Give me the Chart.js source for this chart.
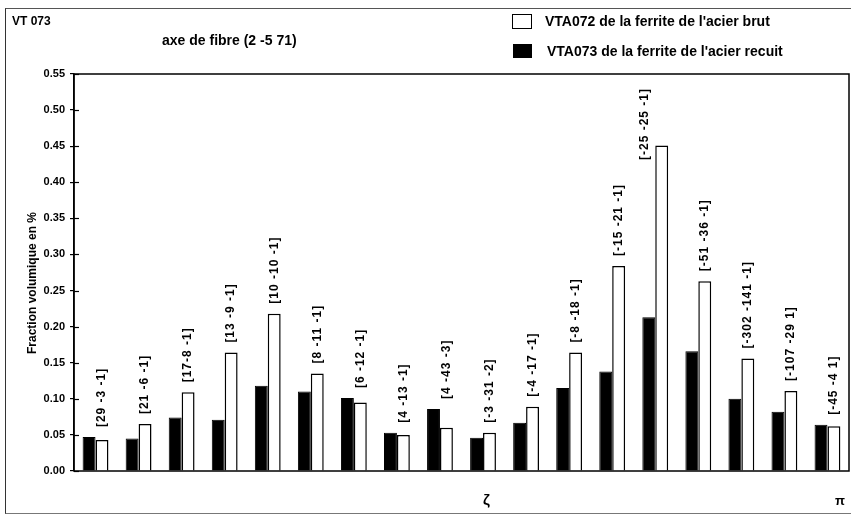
<!DOCTYPE html>
<html lang="fr">
<head>
  <meta charset="UTF-8" />
  <title>VT 073 - axe de fibre (2 -5 71)</title>
  <script src="https://cdn.jsdelivr.net/npm/chart.js"></script>
  <style>
    body { margin: 0; background: #fff; font-family: "Liberation Sans", Arial, sans-serif; color: #000; }
    #wrap { position: relative; width: 851px; height: 515px; overflow: hidden; }
    #frame { position: absolute; left: 5px; top: 8px; width: 850px; height: 504px; border-left: 1px solid #333; border-top: 1px solid #555; border-bottom: 1px solid #777; }
    .txt { position: absolute; font-weight: bold; white-space: nowrap; }
    .box { position: absolute; border: 1.5px solid #000; background: #fff; }
  </style>
</head>
<body>
  <div id="wrap">
    <div id="frame"></div>
    <canvas id="fibreChart"></canvas>

    <!-- titles -->
    <div class="txt" style="left:12px; top:14px; font-size:12px;">VT 073</div>
    <div class="txt" style="left:162px; top:32px; font-size:14px;">axe de fibre (2 -5 71)</div>

    <!-- legend -->
    <div class="box" style="left:512px; top:14px; width:18px; height:13px;"></div>
    <div class="txt" style="left:545px; top:13px; font-size:14px;">VTA072 de la ferrite de l'acier brut</div>
    <div class="box" style="left:513px; top:44px; width:17px; height:12px; background:#000;"></div>
    <div class="txt" style="left:547px; top:43px; font-size:14px;">VTA073 de la ferrite de l'acier recuit</div>

    <!-- axis annotations -->
    <div class="txt" style="left:32px; top:283px; font-size:12px; transform:translate(-50%,-50%) rotate(-90deg);">Fraction volumique en %</div>
    <div class="txt" style="left:483px; top:491px; font-size:15px;">ζ</div>
    <div class="txt" style="left:835px; top:493px; font-size:13px;">π</div>
  </div>

  <script>
    // directions, in the order of the x axis
    const categories = [
      '[29 -3 -1]', '[21 -6 -1]', '[17-8 -1]', '[13 -9 -1]', '[10 -10 -1]', '[8 -11 -1]',
      '[6 -12 -1]', '[4 -13 -1]', '[4 -43 -3]', '[-3 -31 -2]', '[-4 -17 -1]', '[-8 -18 -1]',
      '[-15 -21 -1]', '[-25 -25 -1]', '[-51 -36 -1]', '[-302 -141 -1]', '[-107 -29 1]', '[-45 -4 1]'
    ];
    // VTA073 (acier recuit) - black bars
    const recuit = [0.047, 0.045, 0.074, 0.071, 0.118, 0.110, 0.101, 0.053, 0.086,
                    0.046, 0.067, 0.115, 0.138, 0.213, 0.166, 0.100, 0.082, 0.064];
    // VTA072 (acier brut) - white bars
    const brut = [0.043, 0.065, 0.109, 0.164, 0.218, 0.135, 0.095, 0.050, 0.060,
                  0.053, 0.089, 0.164, 0.284, 0.451, 0.263, 0.156, 0.111, 0.062];

    const yMax = 0.55;
    const yStep = 0.05;

    const FONT = '"Liberation Sans", Arial, sans-serif';

    // box round the plot + ticks that cross the axis
    const frameBox = {
      id: 'frameBox',
      afterDraw(chart) {
        const { ctx, chartArea } = chart;
        const y = chart.scales.y;
        ctx.save();
        ctx.strokeStyle = '#000';
        ctx.lineWidth = 1.5;
        ctx.strokeRect(chartArea.left, chartArea.top, chartArea.right - chartArea.left, chartArea.bottom - chartArea.top);
        ctx.lineWidth = 1.2;
        y.ticks.forEach(t => {
          const py = Math.round(y.getPixelForValue(t.value)) + 0.5;
          ctx.beginPath();
          ctx.moveTo(chartArea.left, py);
          ctx.lineTo(chartArea.left + 5, py);
          ctx.stroke();
        });
        ctx.restore();
      }
    };

    // rotated direction labels above each pair of bars
    const pairLabels = {
      id: 'pairLabels',
      afterDatasetsDraw(chart) {
        const { ctx, chartArea } = chart;
        const black = chart.getDatasetMeta(0).data;
        const white = chart.getDatasetMeta(1).data;
        ctx.save();
        ctx.fillStyle = '#000';
        ctx.font = 'bold 12px ' + FONT;
        ctx.letterSpacing = '1px';
        ctx.textAlign = 'left';
        ctx.textBaseline = 'middle';
        categories.forEach((lab, i) => {
          const b = black[i], w = white[i];
          const len = ctx.measureText(lab).width;
          let x = w.x;
          let yb = Math.min(b.y, w.y) - 10;
          if (yb - len < chartArea.top + 10) {
            // not enough room above: hang it beside the tall bar
            x = b.x - 4;
            yb = chartArea.top + 14 + len;
          }
          ctx.save();
          ctx.translate(x, yb);
          ctx.rotate(-Math.PI / 2);
          ctx.fillText(lab, 0, 0);
          ctx.restore();
        });
        ctx.restore();
      }
    };

    const ctx = document.getElementById('fibreChart').getContext('2d');
    new Chart(ctx, {
      type: 'bar',
      data: {
        labels: categories,
        datasets: [
          {
            label: "VTA073 de la ferrite de l'acier recuit",
            data: recuit,
            backgroundColor: '#000',
            borderColor: '#000',
            borderWidth: 1
          },
          {
            label: "VTA072 de la ferrite de l'acier brut",
            data: brut,
            backgroundColor: '#fff',
            borderColor: '#000',
            borderWidth: 1.5
          }
        ]
      },
      options: {
        responsive: true,
        maintainAspectRatio: false,
        animation: false,
        layout: { padding: { top: 74, right: 2, left: 0, bottom: 0 } },
        datasets: { bar: { categoryPercentage: 0.6, barPercentage: 1.0 } },
        scales: {
          x: {
            grid: { display: false },
            border: { display: false },
            ticks: { display: false },
            afterFit(scale) { scale.height = 44; }
          },
          y: {
            min: 0,
            max: yMax,
            grid: { drawOnChartArea: false, drawTicks: true, tickLength: 4, color: '#000', lineWidth: 1.2 },
            border: { color: '#000', width: 1.5 },
            ticks: {
              stepSize: yStep,
              padding: 5,
              color: '#000',
              font: { family: FONT, size: 11, weight: 'bold' },
              callback: v => v.toFixed(2)
            },
            afterFit(scale) { scale.width = 74; }
          }
        },
        plugins: {
          legend: { display: false },
          tooltip: { enabled: false }
        }
      },
      plugins: [frameBox, pairLabels]
    });
  </script>
</body>
</html>
